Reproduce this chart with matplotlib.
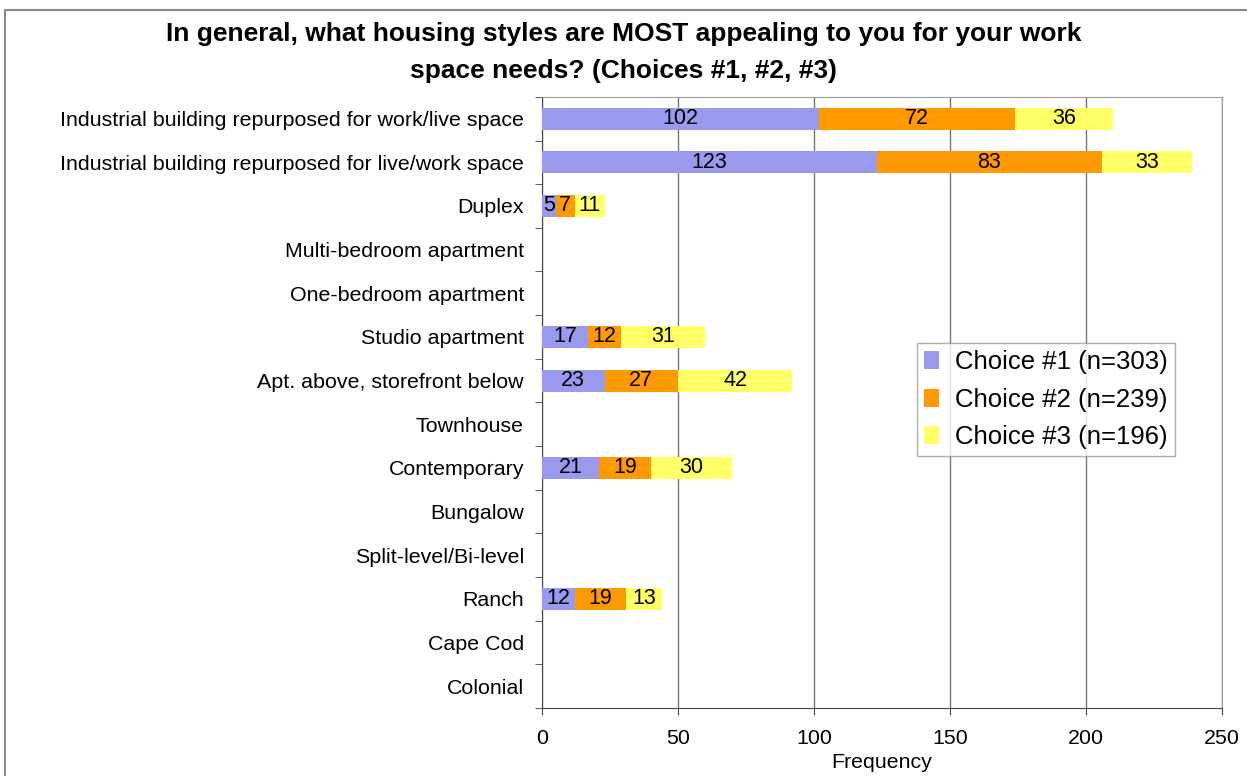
import numpy as np
import matplotlib.pyplot as plt
from matplotlib.patches import Rectangle

plt.rcParams['font.family'] = ['Liberation Sans', 'DejaVu Sans']

categories = [
    "Industrial building repurposed for work/live space",
    "Industrial building repurposed for live/work space",
    "Duplex",
    "Multi-bedroom apartment",
    "One-bedroom apartment",
    "Studio apartment",
    "Apt. above, storefront below",
    "Townhouse",
    "Contemporary",
    "Bungalow",
    "Split-level/Bi-level",
    "Ranch",
    "Cape Cod",
    "Colonial",
]
choice1 = [102, 123, 5, 0, 0, 17, 23, 0, 21, 0, 0, 12, 0, 0]
choice2 = [72, 83, 7, 0, 0, 12, 27, 0, 19, 0, 0, 19, 0, 0]
choice3 = [36, 33, 11, 0, 0, 31, 42, 0, 30, 0, 0, 13, 0, 0]
series_names = ["Choice #1 (n=303)", "Choice #2 (n=239)", "Choice #3 (n=196)"]
colors = ["#9999EE", "#FF9900", "#FFFF66"]

fig = plt.figure(figsize=(12.47, 7.76), dpi=100)
ax = fig.add_axes([0.4346, 0.0876, 0.5453, 0.7876])

y = np.arange(len(categories))
left = np.zeros(len(categories))
for vals, name, c in zip([choice1, choice2, choice3], series_names, colors):
    vals = np.array(vals)
    bars = ax.barh(y, vals, left=left, height=0.5, color=c, label=name, zorder=3)
    labels = [str(v) if v > 0 else "" for v in vals]
    ax.bar_label(bars, labels=labels, label_type='center', fontsize=15.5, zorder=4)
    left += vals

ax.set_xlim(0, 250)
ax.set_ylim(len(categories) - 0.5, -0.5)
ax.set_xticks(range(0, 251, 50))
ax.set_yticks(y)
ax.set_yticklabels(categories, fontsize=15.4)
ax.set_yticks(np.arange(-0.5, len(categories), 1), minor=True)
ax.tick_params(axis='y', which='major', length=0, pad=13)
ax.tick_params(axis='y', which='minor', length=5, color='#444444')
ax.tick_params(axis='x', labelsize=15.4, length=5, color='#444444', pad=10)
ax.set_xlabel("Frequency", fontsize=15.4, labelpad=4)
ax.grid(axis='x', color='#777777', linewidth=1, zorder=0)

for s in ['top', 'right']:
    ax.spines[s].set_color('#999999')
for s in ['left', 'bottom']:
    ax.spines[s].set_color('#444444')

leg = ax.legend(loc='upper left', bbox_to_anchor=(0.551, 0.597), fontsize=18.5,
                frameon=True, fancybox=False, edgecolor='#999999',
                handlelength=0.6, handleheight=0.7, handletextpad=0.6,
                labelspacing=0.52, borderpad=0.28, borderaxespad=0)
leg.get_frame().set_linewidth(1)

fig.text(0.5, 0.956, "In general, what housing styles are MOST appealing to you for your work",
         ha='center', va='center', fontsize=19, fontweight='bold')
fig.text(0.5, 0.909, "space needs? (Choices #1, #2, #3)",
         ha='center', va='center', fontsize=19, fontweight='bold')

fig.patches.append(Rectangle((0.004, -0.01), 1.0, 0.997, transform=fig.transFigure,
                             fill=False, edgecolor='#888888', linewidth=1.5))

fig.savefig("out.png", dpi=100)
